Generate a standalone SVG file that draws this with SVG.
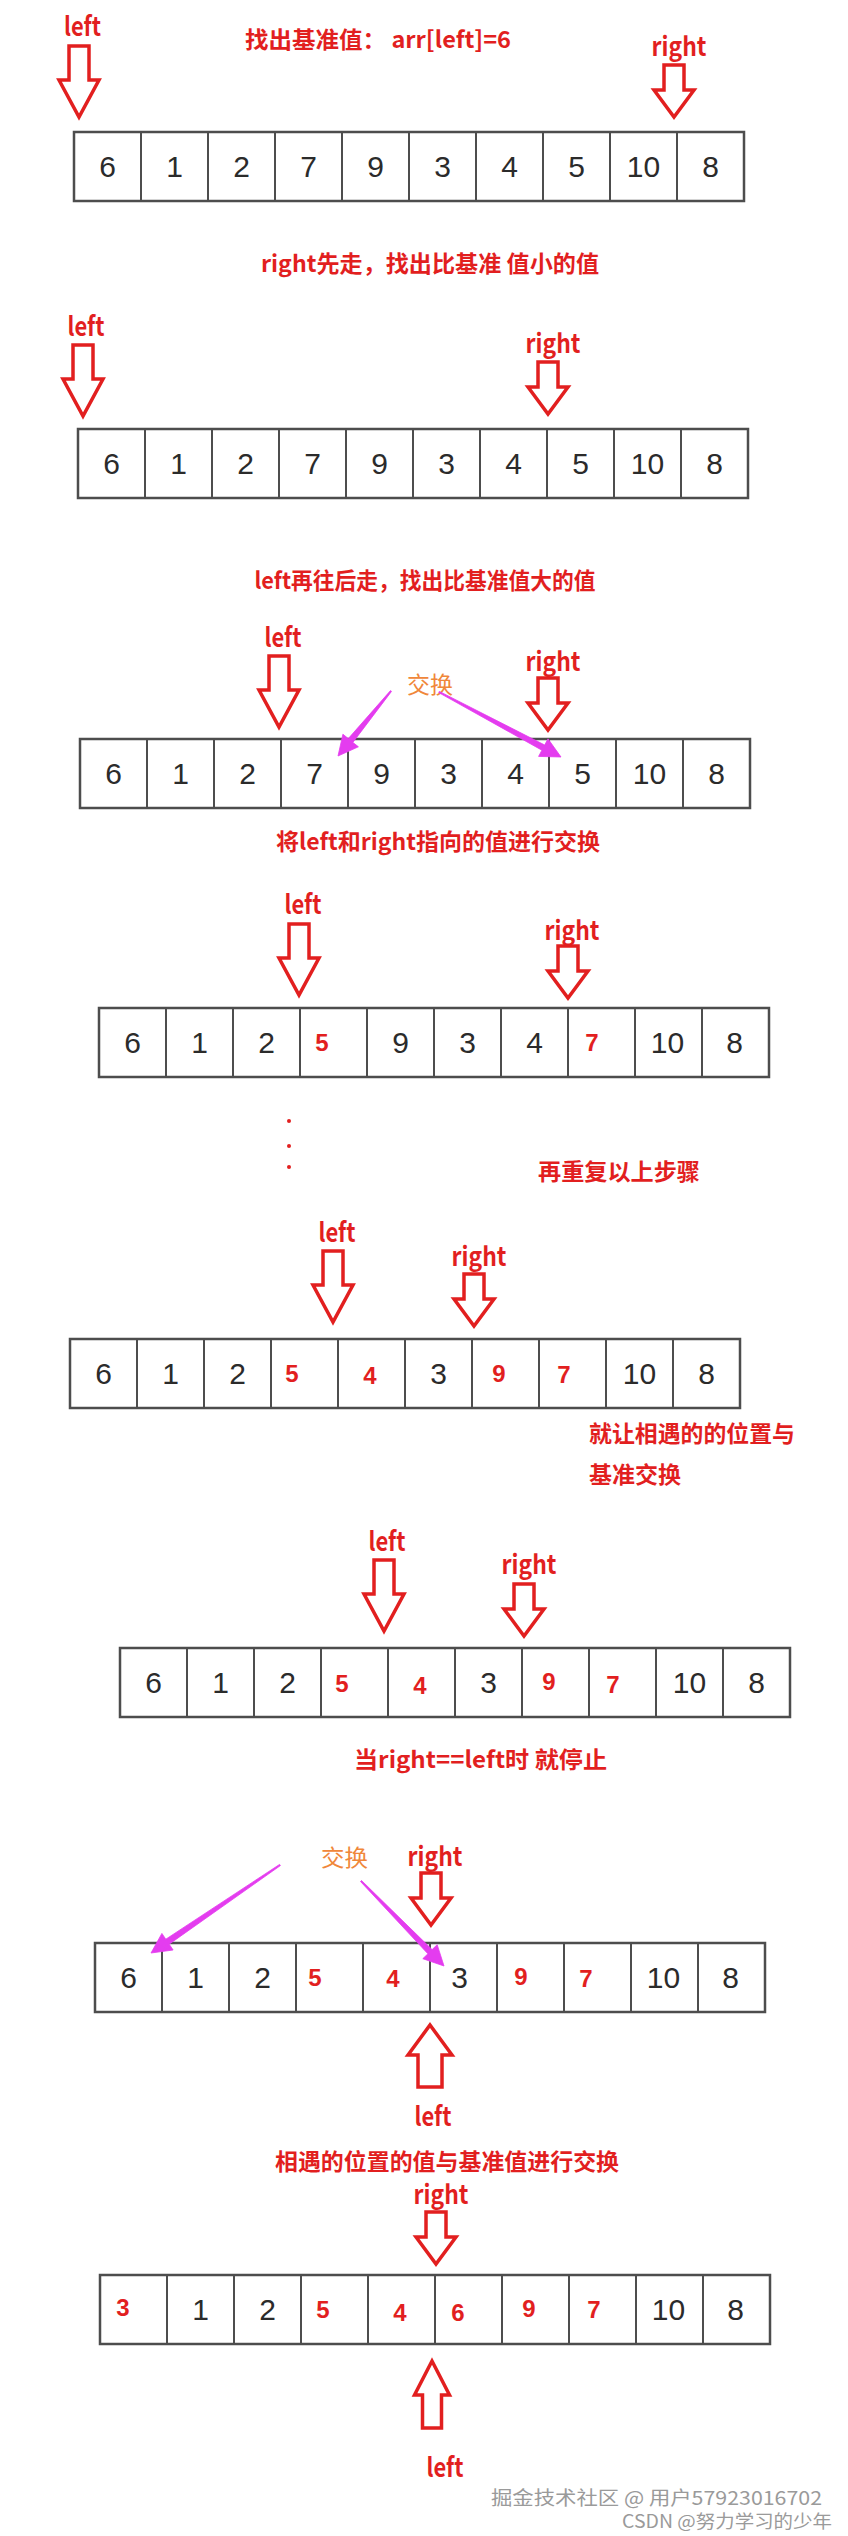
<svg xmlns="http://www.w3.org/2000/svg" xmlns:xlink="http://www.w3.org/1999/xlink" width="848" height="2536" viewBox="0 0 848 2536">
<style>
.bg{fill:#ffffff}
.box{fill:none;stroke:#4d4d4d;stroke-width:2.5}
.dv{fill:none;stroke:#4d4d4d;stroke-width:2}
.d{font-family:"Liberation Sans",Arial,sans-serif;font-size:30px;fill:#2b2b2b;text-anchor:middle}
.r{font-family:"Liberation Sans",Arial,sans-serif;font-size:24px;font-weight:bold;fill:#e21f1f;text-anchor:middle}
.t{font-family:"Noto Sans CJK SC","Liberation Sans",sans-serif;font-size:23px;font-weight:bold;fill:#e21f1f}
.lb{font-family:"Noto Sans CJK SC","Liberation Sans",sans-serif;font-size:26px;font-weight:bold;fill:#e21f1f;text-anchor:middle}
.sw{font-family:"Noto Sans CJK SC",sans-serif;font-size:23px;fill:#f0873a}
.ptr{fill:#ffffff;stroke:#e21f1f;stroke-width:3.5;stroke-linejoin:miter}
.mg{fill:#e43cef;stroke:#e43cef;stroke-width:0.8;stroke-linejoin:round}
.wm{font-family:"Noto Sans CJK SC",sans-serif;fill:#9a9a9a}
</style>
<defs>
<path id="dbig" d="M-10,0 H10 V34 H20 L0,71 L-20,34 H-10 Z"/>
<path id="dsmall" d="M-10,0 H10 V25 H20 L0,52 L-20,25 H-10 Z"/>
<path id="ubig" d="M0,0 L22,30 H12 V62 H-12 V30 H-22 Z"/>
<path id="ubig2" d="M0,0 L17.5,34 H9.5 V67 H-9.5 V34 H-17.5 Z"/>
</defs>
<rect class="bg" x="0" y="0" width="848" height="2536"/>

<!-- Section 1 -->
<g id="title1"><text class="t" x="378" y="48" text-anchor="middle" textLength="266" lengthAdjust="spacingAndGlyphs">找出基准值： arr[left]=6</text></g>
<g id="ptr1-left"><text class="lb" x="82.5" y="36" textLength="37" lengthAdjust="spacingAndGlyphs">left</text><use href="#dbig" class="ptr" x="79" y="46"/></g>
<g id="ptr1-right"><text class="lb" x="679" y="56" textLength="55" lengthAdjust="spacingAndGlyphs">right</text><use href="#dsmall" class="ptr" x="674" y="65"/></g>
<g id="array1">
<rect class="box" x="74" y="132" width="670" height="69"/>
<path class="dv" d="M141,132v69M208,132v69M275,132v69M342,132v69M409,132v69M476,132v69M543,132v69M610,132v69M677,132v69"/>
<text class="d" x="107.5" y="177">6</text><text class="d" x="174.5" y="177">1</text><text class="d" x="241.5" y="177">2</text><text class="d" x="308.5" y="177">7</text><text class="d" x="375.5" y="177">9</text><text class="d" x="442.5" y="177">3</text><text class="d" x="509.5" y="177">4</text><text class="d" x="576.5" y="177">5</text><text class="d" x="643.5" y="177">10</text><text class="d" x="710.5" y="177">8</text>
</g>

<!-- Section 2 -->
<g id="title2"><text class="t" x="430" y="272" text-anchor="middle" textLength="338" lengthAdjust="spacingAndGlyphs">right先走，找出比基准 值小的值</text></g>
<g id="ptr2-left"><text class="lb" x="86" y="336" textLength="37" lengthAdjust="spacingAndGlyphs">left</text><use href="#dbig" class="ptr" x="83" y="345"/></g>
<g id="ptr2-right"><text class="lb" x="553" y="353" textLength="55" lengthAdjust="spacingAndGlyphs">right</text><use href="#dsmall" class="ptr" x="548" y="362"/></g>
<g id="array2">
<rect class="box" x="78" y="429" width="670" height="69"/>
<path class="dv" d="M145,429v69M212,429v69M279,429v69M346,429v69M413,429v69M480,429v69M547,429v69M614,429v69M681,429v69"/>
<text class="d" x="111.5" y="474">6</text><text class="d" x="178.5" y="474">1</text><text class="d" x="245.5" y="474">2</text><text class="d" x="312.5" y="474">7</text><text class="d" x="379.5" y="474">9</text><text class="d" x="446.5" y="474">3</text><text class="d" x="513.5" y="474">4</text><text class="d" x="580.5" y="474">5</text><text class="d" x="647.5" y="474">10</text><text class="d" x="714.5" y="474">8</text>
</g>

<!-- Section 3 -->
<g id="title3"><text class="t" x="425" y="589" text-anchor="middle" textLength="341" lengthAdjust="spacingAndGlyphs">left再往后走，找出比基准值大的值</text></g>
<g id="ptr3-left"><text class="lb" x="283" y="647" textLength="37" lengthAdjust="spacingAndGlyphs">left</text><use href="#dbig" class="ptr" x="279" y="656"/></g>
<g id="ptr3-right"><text class="lb" x="553" y="671" textLength="55" lengthAdjust="spacingAndGlyphs">right</text><use href="#dsmall" class="ptr" x="548" y="678"/></g>
<g id="swap3"><text class="sw" x="407" y="693" textLength="46" lengthAdjust="spacingAndGlyphs">交换</text></g>
<g id="array3">
<rect class="box" x="80" y="739" width="670" height="69"/>
<path class="dv" d="M147,739v69M214,739v69M281,739v69M348,739v69M415,739v69M482,739v69M549,739v69M616,739v69M683,739v69"/>
<text class="d" x="113.5" y="784">6</text><text class="d" x="180.5" y="784">1</text><text class="d" x="247.5" y="784">2</text><text class="d" x="314.5" y="784">7</text><text class="d" x="381.5" y="784">9</text><text class="d" x="448.5" y="784">3</text><text class="d" x="515.5" y="784">4</text><text class="d" x="582.5" y="784">5</text><text class="d" x="649.5" y="784">10</text><text class="d" x="716.5" y="784">8</text>
</g>
<g id="caption3"><text class="t" x="438" y="850" text-anchor="middle" textLength="324" lengthAdjust="spacingAndGlyphs">将left和right指向的值进行交换</text></g>

<!-- Section 4 -->
<g id="ptr4-left"><text class="lb" x="303" y="914" textLength="37" lengthAdjust="spacingAndGlyphs">left</text><use href="#dbig" class="ptr" x="299" y="924"/></g>
<g id="ptr4-right"><text class="lb" x="572" y="940" textLength="55" lengthAdjust="spacingAndGlyphs">right</text><use href="#dsmall" class="ptr" x="568" y="946"/></g>
<g id="array4">
<rect class="box" x="99" y="1008" width="670" height="69"/>
<path class="dv" d="M166,1008v69M233,1008v69M300,1008v69M367,1008v69M434,1008v69M501,1008v69M568,1008v69M635,1008v69M702,1008v69"/>
<text class="d" x="132.5" y="1053">6</text><text class="d" x="199.5" y="1053">1</text><text class="d" x="266.5" y="1053">2</text><text class="r" x="322" y="1051">5</text><text class="d" x="400.5" y="1053">9</text><text class="d" x="467.5" y="1053">3</text><text class="d" x="534.5" y="1053">4</text><text class="r" x="592" y="1051">7</text><text class="d" x="667.5" y="1053">10</text><text class="d" x="734.5" y="1053">8</text>
</g>
<g id="ellipsis"><circle cx="289" cy="1121" r="2" fill="#e21f1f"/><circle cx="289" cy="1146" r="2" fill="#e21f1f"/><circle cx="289" cy="1167" r="2" fill="#e21f1f"/></g>
<g id="note4"><text class="t" x="538" y="1180" textLength="162" lengthAdjust="spacingAndGlyphs">再重复以上步骤</text></g>

<!-- Section 5 -->
<g id="ptr5-left"><text class="lb" x="337" y="1242" textLength="37" lengthAdjust="spacingAndGlyphs">left</text><use href="#dbig" class="ptr" x="333" y="1251"/></g>
<g id="ptr5-right"><text class="lb" x="479" y="1266" textLength="55" lengthAdjust="spacingAndGlyphs">right</text><use href="#dsmall" class="ptr" x="474" y="1274"/></g>
<g id="array5">
<rect class="box" x="70" y="1339" width="670" height="69"/>
<path class="dv" d="M137,1339v69M204,1339v69M271,1339v69M338,1339v69M405,1339v69M472,1339v69M539,1339v69M606,1339v69M673,1339v69"/>
<text class="d" x="103.5" y="1384">6</text><text class="d" x="170.5" y="1384">1</text><text class="d" x="237.5" y="1384">2</text><text class="r" x="292" y="1382">5</text><text class="r" x="370" y="1384">4</text><text class="d" x="438.5" y="1384">3</text><text class="r" x="499" y="1382">9</text><text class="r" x="564" y="1383">7</text><text class="d" x="639.5" y="1384">10</text><text class="d" x="706.5" y="1384">8</text>
</g>
<g id="note5"><text class="t" x="589" y="1442" textLength="206" lengthAdjust="spacingAndGlyphs">就让相遇的的位置与</text><text class="t" x="589" y="1483" textLength="92" lengthAdjust="spacingAndGlyphs">基准交换</text></g>

<!-- Section 6 -->
<g id="ptr6-left"><text class="lb" x="387" y="1551" textLength="37" lengthAdjust="spacingAndGlyphs">left</text><use href="#dbig" class="ptr" x="384" y="1560"/></g>
<g id="ptr6-right"><text class="lb" x="529" y="1574" textLength="55" lengthAdjust="spacingAndGlyphs">right</text><use href="#dsmall" class="ptr" x="524" y="1584"/></g>
<g id="array6">
<rect class="box" x="120" y="1648" width="670" height="69"/>
<path class="dv" d="M187,1648v69M254,1648v69M321,1648v69M388,1648v69M455,1648v69M522,1648v69M589,1648v69M656,1648v69M723,1648v69"/>
<text class="d" x="153.5" y="1693">6</text><text class="d" x="220.5" y="1693">1</text><text class="d" x="287.5" y="1693">2</text><text class="r" x="342" y="1692">5</text><text class="r" x="420" y="1694">4</text><text class="d" x="488.5" y="1693">3</text><text class="r" x="549" y="1690">9</text><text class="r" x="613" y="1693">7</text><text class="d" x="689.5" y="1693">10</text><text class="d" x="756.5" y="1693">8</text>
</g>
<g id="note6"><text class="t" x="354" y="1768" textLength="253" lengthAdjust="spacingAndGlyphs">当right==left时 就停止</text></g>

<!-- Section 7 -->
<g id="swap7"><text class="sw" x="321" y="1866" textLength="47" lengthAdjust="spacingAndGlyphs">交换</text></g>
<g id="ptr7-right"><text class="lb" x="435" y="1866" textLength="55" lengthAdjust="spacingAndGlyphs">right</text><use href="#dsmall" class="ptr" x="431" y="1873"/></g>
<g id="array7">
<rect class="box" x="95" y="1943" width="670" height="69"/>
<path class="dv" d="M162,1943v69M229,1943v69M296,1943v69M363,1943v69M430,1943v69M497,1943v69M564,1943v69M631,1943v69M698,1943v69"/>
<text class="d" x="128.5" y="1988">6</text><text class="d" x="195.5" y="1988">1</text><text class="d" x="262.5" y="1988">2</text><text class="r" x="315" y="1986">5</text><text class="r" x="393" y="1987">4</text><text class="d" x="459.5" y="1988">3</text><text class="r" x="521" y="1985">9</text><text class="r" x="586" y="1987">7</text><text class="d" x="663.5" y="1988">10</text><text class="d" x="730.5" y="1988">8</text>
</g>
<g id="ptr7-left"><use href="#ubig" class="ptr" x="430" y="2025"/><text class="lb" x="433" y="2126" textLength="37" lengthAdjust="spacingAndGlyphs">left</text></g>
<g id="caption7"><text class="t" x="447" y="2170" text-anchor="middle" textLength="344" lengthAdjust="spacingAndGlyphs">相遇的位置的值与基准值进行交换</text></g>

<!-- Section 8 -->
<g id="ptr8-right"><text class="lb" x="441" y="2204" textLength="55" lengthAdjust="spacingAndGlyphs">right</text><use href="#dsmall" class="ptr" x="436" y="2212"/></g>
<g id="array8">
<rect class="box" x="100" y="2275" width="670" height="69"/>
<path class="dv" d="M167,2275v69M234,2275v69M301,2275v69M368,2275v69M435,2275v69M502,2275v69M569,2275v69M636,2275v69M703,2275v69"/>
<text class="r" x="123" y="2316">3</text><text class="d" x="200.5" y="2320">1</text><text class="d" x="267.5" y="2320">2</text><text class="r" x="323" y="2318">5</text><text class="r" x="400" y="2321">4</text><text class="r" x="458" y="2321">6</text><text class="r" x="529" y="2317">9</text><text class="r" x="594" y="2318">7</text><text class="d" x="668.5" y="2320">10</text><text class="d" x="735.5" y="2320">8</text>
</g>
<g id="ptr8-left"><use href="#ubig2" class="ptr" x="432" y="2361"/><text class="lb" x="445" y="2477" textLength="37" lengthAdjust="spacingAndGlyphs">left</text></g>

<!-- Connectors: swap arrows -->
<g id="connectors">
<polygon class="mg" points="391.5,691.4 352.9,742.4 358.4,746.8 338,756 342.9,734.2 348.3,738.6 390.5,690.6"/>
<polygon class="mg" points="438.7,692.6 541.9,750.2 538.6,756.4 561,757 548.0,738.8 544.7,745.0 439.3,691.4"/>
<polygon class="mg" points="280.4,1865.6 169.2,1944.2 173.1,1950.0 151,1953 161.9,1933.4 165.8,1939.2 279.6,1864.4"/>
<polygon class="mg" points="360.5,1881.5 427.9,1953.8 422.8,1958.7 444,1966 437.2,1944.7 432.1,1949.6 361.5,1880.5"/>
</g>

<g id="watermark">
<text class="wm" x="822" y="2505" font-size="19" text-anchor="end" textLength="331" lengthAdjust="spacingAndGlyphs">掘金技术社区 @ 用户57923016702</text>
<text class="wm" x="832" y="2528" font-size="18" text-anchor="end" textLength="210" lengthAdjust="spacingAndGlyphs">CSDN @努力学习的少年</text>
</g>
</svg>
